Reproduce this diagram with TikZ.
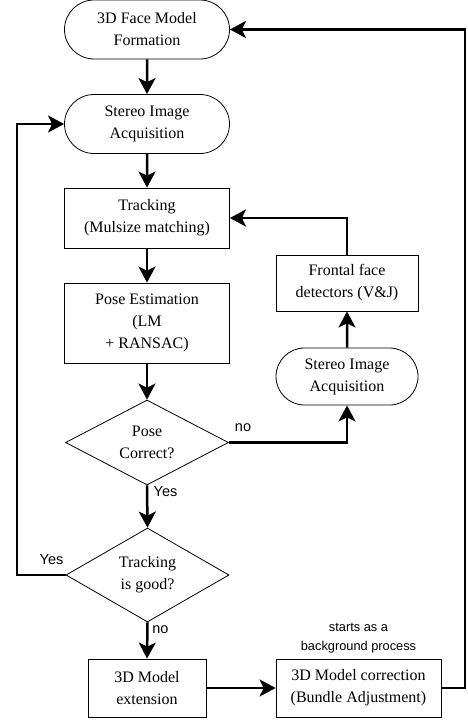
\documentclass[tikz,border=0pt]{standalone}
\usepackage{fontspec}
\setmainfont{Liberation Serif}
\setsansfont{Liberation Sans}
\usetikzlibrary{arrows.meta, positioning, shapes.geometric, shapes.misc}

\begin{document}
\begin{tikzpicture}[
  x=1pt, y=-1pt,
  every node/.style={font=\fontsize{16}{22}\selectfont},
  term/.style={draw, rounded rectangle, line width=0.8pt, align=center,
               minimum width=165pt, minimum height=59pt, inner sep=0pt},
  proc/.style={draw, rectangle, line width=0.8pt, align=center,
               minimum width=165pt, minimum height=60pt, inner sep=0pt},
  dec/.style={draw, diamond, line width=0.8pt, align=center, aspect=1.9,
              minimum width=163pt, minimum height=85pt, inner sep=0pt},
  lbl/.style={font=\sffamily\fontsize{14.5}{17}\selectfont, inner sep=0pt},
  arr/.style={-{Stealth[length=16pt, width=17pt, inset=4pt]}, line width=2.5pt}
]
  \useasboundingbox (0,0) rectangle (468,720);

  % left column
  \node[term] (face)   at (147, 29.5) {3D Face Model\\Formation};
  \node[term] (stereo) at (147, 124)  {Stereo Image\\Acquisition};
  \node[proc] (track)  at (147, 218)  {Tracking\\(Mulsize matching)};
  \node[proc, minimum height=80pt] (pose) at (147, 323)
    {Pose Estimation\\(LM\\+ RANSAC)};
  \node[dec] (pcorr)   at (147, 442.5) {Pose\\Correct?};
  \node[dec, minimum height=94pt] (tgood) at (147.5, 575) {Tracking\\is good?};
  \node[proc, minimum width=118pt, minimum height=58pt] (ext) at (147, 688)
    {3D Model\\extension};

  % right column
  \node[proc, minimum width=142pt, minimum height=56pt] (front) at (347, 283)
    {Frontal face\\detectors (V\&J)};
  \node[term, minimum width=142pt, minimum height=57pt] (stereo2) at (347, 376.5)
    {Stereo Image\\Acquisition};
  \node[proc, minimum width=165pt, minimum height=58pt] (corr) at (358.5, 688)
    {3D Model correction\\(Bundle Adjustment)};
  \node[lbl, font=\sffamily\fontsize{12.8}{19}\selectfont, align=center] (bg)
    at (358.5, 638) {starts as a\\background process};

  \coordinate (lft) at (17, 575);
  \coordinate (rgt) at (465, 688);

  \draw[arr] (face)  -- (stereo);
  \draw[arr] (stereo) -- (track);
  \draw[arr] (track) -- (pose);
  \draw[arr] (pose)  -- (pcorr);
  \draw[arr] (pcorr.east) -| (stereo2.south);
  \draw[arr] (stereo2) -- (front);
  \draw[arr] (front.north) |- (track.east);
  \draw[arr] (pcorr.south) -- (tgood.north);
  \draw[arr] (tgood.west) -- (lft) |- (stereo.west);
  \draw[arr] (tgood.south) -- (ext.north);
  \draw[arr] (ext) -- (corr);
  \draw[arr] (corr.east) -- (rgt) |- (face.east);

  \node[lbl] (no1)  at (243, 428) {no};
  \node[lbl] (yes1) at (165.5, 492) {Yes};
  \node[lbl] (yes2) at (51.5, 560) {Yes};
  \node[lbl] (no2)  at (160.5, 630) {no};
\end{tikzpicture}
\end{document}
